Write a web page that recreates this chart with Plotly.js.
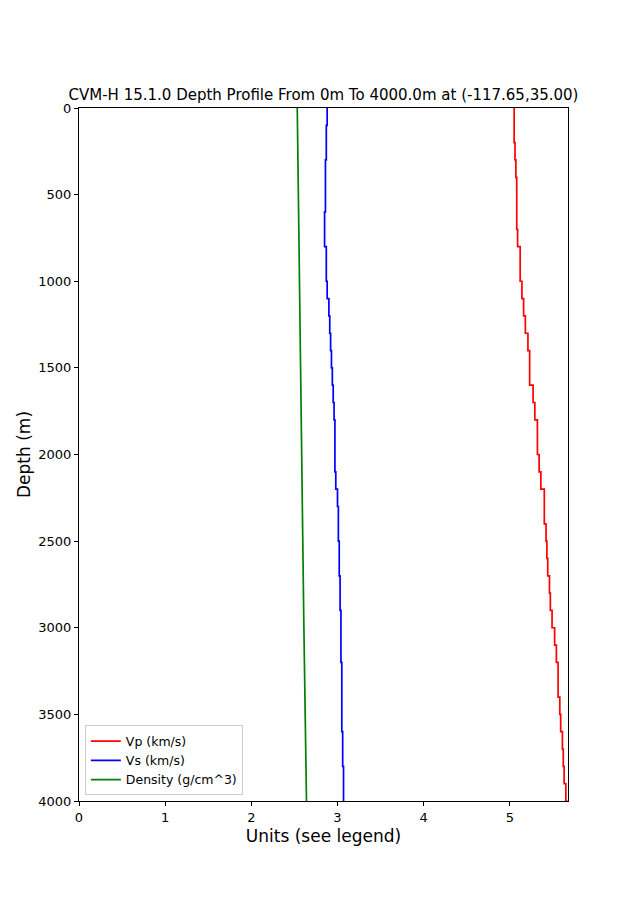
<!DOCTYPE html>
<html>
<head>
<meta charset="utf-8">
<script src="https://cdn.plot.ly/plotly-3.0.1.min.js"></script>
<style>html,body{margin:0;padding:0;background:#fff;}#chart{width:630px;height:900px;}</style>
</head>
<body>
<div id="chart"></div>
<script>
const depths = [0,100,200,300,400,500,600,700,800,900,1000,1100,1200,1300,1400,1500,1600,1700,1800,1900,2000,2100,2200,2300,2400,2500,2600,2700,2800,2900,3000,3100,3200,3300,3400,3500,3600,3700,3800,3900,4000];
const vp = [5.05,5.05,5.06,5.07,5.08,5.08,5.08,5.09,5.12,5.12,5.14,5.16,5.18,5.21,5.23,5.23,5.27,5.29,5.32,5.32,5.34,5.36,5.40,5.40,5.42,5.43,5.44,5.46,5.47,5.49,5.52,5.54,5.56,5.56,5.58,5.59,5.61,5.62,5.63,5.65,5.67];
const vs = [2.88,2.87,2.87,2.86,2.86,2.86,2.85,2.85,2.87,2.87,2.88,2.90,2.91,2.92,2.93,2.94,2.95,2.96,2.97,2.97,2.97,2.98,3.00,3.01,3.01,3.02,3.02,3.03,3.03,3.04,3.04,3.04,3.05,3.05,3.05,3.05,3.06,3.06,3.07,3.07,3.08];
const densDepths = [0,500,1000,1500,2000,2500,3000,3500,4000];
const density = [2.533,2.545,2.556,2.568,2.58,2.595,2.61,2.625,2.64];
const names = ['Vp (km/s)','Vs (km/s)','Density (g/cm^3)'];
const titleText = 'CVM-H 15.1.0 Depth Profile From 0m To 4000.0m at (-117.65,35.00)';

const font = 'DejaVu Sans, sans-serif';
const traces = [
  {x: vp, y: depths, name: names[0], mode: 'lines', line: {color: 'red', width: 1.7, shape: 'vh'}},
  {x: vs, y: depths, name: names[1], mode: 'lines', line: {color: 'blue', width: 1.7, shape: 'vh'}},
  {x: density, y: densDepths, name: names[2], mode: 'lines', line: {color: 'green', width: 1.7}}
];
const axisCommon = {
  showgrid: false, zeroline: false, showline: true, linecolor: '#000', linewidth: 1,
  mirror: true, ticks: 'outside', ticklen: 4, tickcolor: '#000',
  tickfont: {family: font, size: 13, color: '#000'}
};
const layout = {
  width: 630, height: 900,
  margin: {l: 79, r: 62, t: 108, b: 99},
  paper_bgcolor: '#fff', plot_bgcolor: '#fff',
  font: {family: font, color: '#000'},
  title: {text: titleText, font: {family: font, size: 15, color: '#000'}, x: 0.5, xanchor: 'center', xref: 'paper', y: 0.889, yanchor: 'bottom'},
  xaxis: Object.assign({}, axisCommon, {range: [0, 5.675], tickvals: [0,1,2,3,4,5],
    title: {text: 'Units (see legend)', font: {family: font, size: 17, color: '#000'}, standoff: 6}}),
  yaxis: Object.assign({}, axisCommon, {range: [4000, 0], tickvals: [0,500,1000,1500,2000,2500,3000,3500,4000],
    title: {text: 'Depth (m)', font: {family: font, size: 17, color: '#000'}, standoff: 3}}),
  showlegend: true,
  legend: {x: 0.012, y: 0.008, xanchor: 'left', yanchor: 'bottom', bgcolor: 'rgba(255,255,255,0.9)',
    bordercolor: '#ccc', borderwidth: 1, font: {family: font, size: 12.5, color: '#000'},
    tracegroupgap: 0, itemwidth: 30}
};
Plotly.newPlot('chart', traces, layout, {displayModeBar: false, staticPlot: true});
</script>
</body>
</html>
